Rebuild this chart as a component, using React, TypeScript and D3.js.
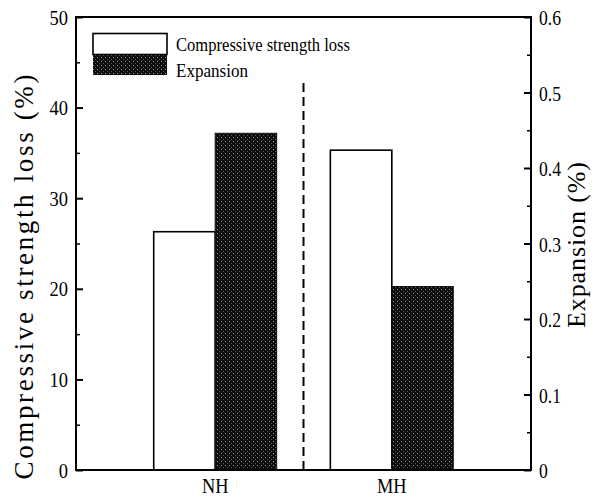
import * as d3 from 'd3';
import React, {useEffect, useRef} from 'react';

// bar data
const categories = ['NH', 'MH'];
const strengthLoss = [26.3, 35.3]; // left axis (%)
const expansion = [0.446, 0.243]; // right axis (%)
const leftTicks = [0, 10, 20, 30, 40, 50];
const rightTicks = [0, 0.1, 0.2, 0.3, 0.4, 0.5, 0.6];
const legendLabels = ['Compressive strength loss', 'Expansion'];

const FONT = '"Liberation Serif", "Times New Roman", serif';

export default function App() {
    const ref = useRef<SVGSVGElement>(null);

    useEffect(() => {
        const svg = d3.select(ref.current);
        svg.selectAll('*').remove();

        const left = 76, right = 531, top = 17, bottom = 470;

        // stipple pattern for the dark bars
        const defs = svg.append('defs');
        const pat = defs.append('pattern')
            .attr('id', 'stipple')
            .attr('patternUnits', 'userSpaceOnUse')
            .attr('width', 4)
            .attr('height', 4);
        pat.append('rect').attr('width', 4).attr('height', 4).attr('fill', '#0d0d0d');
        pat.append('rect').attr('x', 1).attr('y', 1).attr('width', 1).attr('height', 1).attr('fill', '#9a9a9a');
        pat.append('rect').attr('x', 3).attr('y', 3).attr('width', 1).attr('height', 1).attr('fill', '#555');

        const x = d3.scalePoint()
            .domain(categories)
            .range([left, right])
            .padding(0.788);
        const step = x.step();
        const barW = step * 0.348;

        const yL = d3.scaleLinear().domain([0, 50]).range([bottom, top]);
        const yR = d3.scaleLinear().domain([0, 0.6]).range([bottom, top]);

        // bars
        const g = svg.append('g');
        categories.forEach((c, i) => {
            const cx = x(c) as number;
            g.append('rect')
                .attr('x', cx - barW)
                .attr('y', yL(strengthLoss[i]))
                .attr('width', barW)
                .attr('height', bottom - yL(strengthLoss[i]))
                .attr('fill', 'white')
                .attr('stroke', 'black')
                .attr('stroke-width', 1.6);
            g.append('rect')
                .attr('x', cx)
                .attr('y', yR(expansion[i]))
                .attr('width', barW)
                .attr('height', bottom - yR(expansion[i]))
                .attr('fill', 'url(#stipple)')
                .attr('stroke', '#111')
                .attr('stroke-width', 1);
        });

        // dashed separator
        const mid = ((x('NH') as number) + (x('MH') as number)) / 2;
        svg.append('line')
            .attr('x1', mid).attr('x2', mid)
            .attr('y1', 83).attr('y2', bottom)
            .attr('stroke', 'black')
            .attr('stroke-width', 2)
            .attr('stroke-dasharray', '9,5');

        // frame
        svg.append('rect')
            .attr('x', left).attr('y', top)
            .attr('width', right - left).attr('height', bottom - top)
            .attr('fill', 'none')
            .attr('stroke', 'black')
            .attr('stroke-width', 2);

        // condensed serif text, like the scanned figure
        const condensed = (sel: any, sx: number) => sel
            .attr('font-family', FONT)
            .attr('transform', function (this: any) {
                const tx = +this.getAttribute('data-x');
                const ty = +this.getAttribute('data-y');
                return `translate(${tx},${ty}) scale(${sx},1)`;
            });

        // left axis
        svg.append('g')
            .attr('transform', `translate(${left},0)`)
            .call(d3.axisRight(yL).tickValues(leftTicks).tickSize(7).tickFormat(() => ''))
            .call((a) => a.select('.domain').remove())
            .selectAll('line').attr('stroke-width', 2);
        svg.append('g')
            .attr('transform', `translate(${left},0)`)
            .call(d3.axisRight(yL).tickValues(d3.range(5, 50, 10)).tickSize(4).tickFormat(() => ''))
            .call((a) => a.select('.domain').remove())
            .selectAll('line').attr('stroke-width', 1.5);
        svg.append('g')
            .selectAll('text')
            .data(leftTicks)
            .join('text')
            .attr('data-x', 68)
            .attr('data-y', (d) => yL(d) + 7.5)
            .attr('text-anchor', 'end')
            .attr('font-size', 22)
            .text((d) => d)
            .call(condensed, 0.84);

        // right axis
        svg.append('g')
            .attr('transform', `translate(${right},0)`)
            .call(d3.axisLeft(yR).tickValues(rightTicks).tickSize(7).tickFormat(() => ''))
            .call((a) => a.select('.domain').remove())
            .selectAll('line').attr('stroke-width', 2);
        svg.append('g')
            .attr('transform', `translate(${right},0)`)
            .call(d3.axisLeft(yR).tickValues(d3.range(0.05, 0.6, 0.1)).tickSize(4).tickFormat(() => ''))
            .call((a) => a.select('.domain').remove())
            .selectAll('line').attr('stroke-width', 1.5);
        svg.append('g')
            .selectAll('text')
            .data(rightTicks)
            .join('text')
            .attr('data-x', 539)
            .attr('data-y', (d) => yR(d) + 8)
            .attr('font-size', 22)
            .text((d) => (d === 0 ? '0' : d3.format('.1f')(d)))
            .call(condensed, 0.8);

        // category labels
        svg.append('g')
            .selectAll('text')
            .data(categories)
            .join('text')
            .attr('data-x', (d) => x(d) as number)
            .attr('data-y', 493)
            .attr('text-anchor', 'middle')
            .attr('font-size', 20)
            .text((d) => d)
            .call(condensed, 0.92);

        // axis titles
        svg.append('text')
            .attr('transform', 'translate(33,277) rotate(-90)')
            .attr('text-anchor', 'middle')
            .attr('font-family', FONT)
            .attr('font-size', 27)
            .attr('textLength', 405)
            .attr('lengthAdjust', 'spacing')
            .text('Compressive strength loss (%)');
        svg.append('text')
            .attr('transform', 'translate(585,245) rotate(-90)')
            .attr('text-anchor', 'middle')
            .attr('font-family', FONT)
            .attr('font-size', 26)
            .attr('textLength', 166)
            .attr('lengthAdjust', 'spacing')
            .text('Expansion (%)');

        // legend
        const leg = svg.append('g');
        leg.append('rect')
            .attr('x', 93).attr('y', 33.5)
            .attr('width', 74).attr('height', 21)
            .attr('fill', 'white')
            .attr('stroke', 'black')
            .attr('stroke-width', 1.6);
        leg.append('rect')
            .attr('x', 93).attr('y', 55)
            .attr('width', 74).attr('height', 20)
            .attr('fill', 'url(#stipple)');
        leg.selectAll('text')
            .data(legendLabels)
            .join('text')
            .attr('x', 176)
            .attr('y', (d, i) => 51 + i * 26)
            .attr('font-family', FONT)
            .attr('font-size', 19)
            .attr('textLength', (d, i) => (i === 0 ? 174 : 72))
            .attr('lengthAdjust', 'spacingAndGlyphs')
            .text((d) => d);
    }, []);

    return (
        <svg ref={ref} width={601} height={497}
            style={{position: 'absolute', left: 0, top: 0, background: 'white'}} />
    );
}
